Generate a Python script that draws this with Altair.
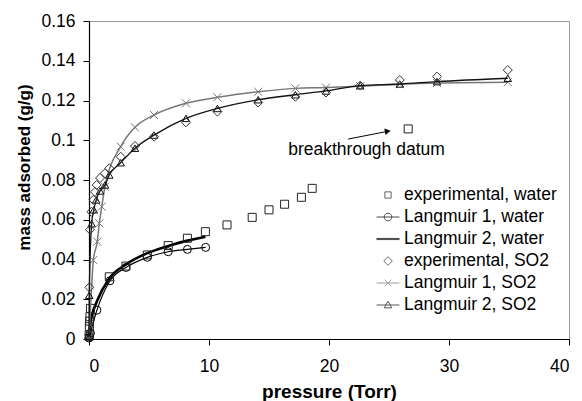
import math
import altair as alt
import pandas as pd

# ---------------- data ----------------
water_exp_p = [0.01, 0.03, 0.05, 0.08, 0.12, 1.69, 3.08, 4.86, 6.6, 8.2, 9.7,
               11.5, 13.6, 15.0, 16.3, 17.7, 18.6, 26.6]
water_exp_q = [0.002, 0.0062, 0.009, 0.0112, 0.0154, 0.0313, 0.0367, 0.0423, 0.047,
               0.0507, 0.054, 0.0574, 0.0612, 0.065, 0.0678, 0.0713, 0.0758, 0.1057]

water_l1_p = [0.0, 0.05, 0.12, 0.66, 1.75, 3.08, 4.86, 6.6, 8.2, 9.72]
water_l1_q = [0.0005, 0.0014, 0.003, 0.0145, 0.0293, 0.036, 0.0411, 0.0439, 0.0451, 0.0461]

water_l2_p = [0.0, 0.03, 0.08, 0.12, 0.3, 0.66, 1.69, 3.08, 4.86, 6.6, 8.2, 9.7]
water_l2_q = [0.0, 0.003, 0.006, 0.008, 0.013, 0.019, 0.0305, 0.0375, 0.0432, 0.0468,
              0.0495, 0.0515]

so2_exp_p = [0.01, 0.03, 0.08, 0.2, 0.36, 0.5, 0.64, 0.92, 1.33, 1.69, 2.64, 3.83,
             5.42, 8.08, 10.7, 14.1, 17.2, 19.75, 22.6, 25.9, 29.0, 34.9]
so2_exp_q = [0.002, 0.026, 0.055, 0.064, 0.070, 0.074, 0.0775, 0.081, 0.0834, 0.0859,
             0.0917, 0.0971, 0.1018, 0.109, 0.1144, 0.119, 0.1219, 0.124, 0.1275,
             0.1303, 0.132, 0.1353]

so2_l1_p = [0.0, 0.1, 0.2, 0.36, 0.69, 0.86, 1.06, 1.33, 2.64, 3.83, 5.42, 8.08,
            10.7, 14.1, 17.2, 19.75, 22.6, 25.9, 29.0, 34.9]
so2_l1_q = [0.0, 0.012, 0.024, 0.0397, 0.049, 0.0582, 0.0666, 0.0766, 0.0968, 0.1065,
            0.1127, 0.1186, 0.1216, 0.1244, 0.1261, 0.1265, 0.1272, 0.1282, 0.1288,
            0.1292]

so2_l2_p = [0.0, 0.02, 0.22, 0.4, 0.6, 0.92, 1.33, 1.69, 2.64, 3.83, 5.42, 8.08,
            10.7, 14.1, 17.2, 19.75, 22.6, 25.9, 29.0, 34.9]
so2_l2_q = [0.001, 0.022, 0.058, 0.065, 0.070, 0.0745, 0.0775, 0.0825, 0.0887, 0.096,
            0.1026, 0.111, 0.116, 0.1204, 0.1229, 0.1248, 0.1275, 0.1283, 0.1295,
            0.1312]

series_names = ["experimental, water", "Langmuir 1, water", "Langmuir 2, water",
                "experimental, SO2", "Langmuir 1, SO2", "Langmuir 2, SO2"]
series_colors = ["#222222", "#000000", "#000000", "#333333", "#777777", "#111111"]

note_text = ["breakthrough datum"]
note_p = [16.6]
note_q = [0.0926]
arrow_p = [21.6]
arrow_q = [0.1006]
arrow_p2 = [24.9]
arrow_q2 = [0.1045]

x_ticks = [0, 10, 20, 30, 40]
y_ticks = [0, 0.02, 0.04, 0.06, 0.08, 0.1, 0.12, 0.14, 0.16]

FONT = "Liberation Sans"


def frame(p, q):
    return pd.DataFrame({"p": p, "q": q})


# glyph paths (shapes only)
def poly_circle(r, n=16):
    pts = [(r * math.cos(2 * math.pi * i / n), r * math.sin(2 * math.pi * i / n)) for i in range(n)]
    return "M" + "L".join(f"{x:.3f},{y:.3f}" for x, y in pts) + "Z"

X_PATH = "M-1,-1L1,1M-1,1L1,-1"
L = 1.2
leg_shapes = [
    "M-0.33,-0.33L0.33,-0.33L0.33,0.33L-0.33,0.33Z",
    f"M-{L},0L{L},0" + poly_circle(0.4),
    f"M-{L},-0.06L{L},-0.06M-{L},0L{L},0M-{L},0.06L{L},0.06",
    "M0,-0.45L0.45,0L0,0.45L-0.45,0Z",
    f"M-{L},0L{L},0M-0.35,-0.35L0.35,0.35M-0.35,0.35L0.35,-0.35",
    f"M-{L},0L{L},0M0,-0.4L0.4,0.3L-0.4,0.3Z",
]

x_axis = alt.Axis(values=x_ticks, title="pressure (Torr)", format="d",
                  titleFontSize=19, titleY=58, titleBaseline="alphabetic",
                  labelPadding=12, labelOverlap=False)
y_axis = alt.Axis(values=y_ticks, title="mass adsorbed (g/g)", format="~g",
                  titleFontSize=17, titleX=-60, titleY=146,
                  titleBaseline="alphabetic", labelPadding=8, labelOverlap=False)
x_scale = alt.Scale(domain=[0, 40], nice=False, zero=False)
y_scale = alt.Scale(domain=[0, 0.16], nice=False)

xenc = alt.X("p:Q", scale=x_scale, axis=x_axis)
yenc = alt.Y("q:Q", scale=y_scale, axis=y_axis)


def base(p, q):
    return alt.Chart(frame(p, q)).encode(x=xenc, y=yenc)


water_exp = base(water_exp_p, water_exp_q).mark_point(
    shape="square", size=64, filled=False, color=series_colors[0], strokeWidth=1, opacity=1)

water_l1_line = base(water_l1_p, water_l1_q).mark_line(
    color=series_colors[1], strokeWidth=1.2, interpolate="monotone")
water_l1_pts = base(water_l1_p, water_l1_q).mark_point(
    shape="circle", size=64, filled=False, color=series_colors[1], strokeWidth=1, opacity=1)

water_l2_line = base(water_l2_p, water_l2_q).mark_line(
    color=series_colors[2], strokeWidth=2.6, interpolate="monotone")

so2_exp = base(so2_exp_p, so2_exp_q).mark_point(
    shape="diamond", size=81, filled=False, color=series_colors[3], strokeWidth=1, opacity=1)

so2_l1_line = base(so2_l1_p, so2_l1_q).mark_line(
    color=series_colors[4], strokeWidth=1.5, interpolate="monotone")
so2_l1_pts = base(so2_l1_p[3:], so2_l1_q[3:]).mark_point(
    shape=X_PATH, size=64, filled=False, color=series_colors[4], strokeWidth=1, opacity=1)

so2_l2_line = base(so2_l2_p, so2_l2_q).mark_line(
    color=series_colors[5], strokeWidth=1.3, interpolate="monotone")
so2_l2_pts = base(so2_l2_p, so2_l2_q).mark_point(
    shape="triangle-up", size=56, filled=False, color=series_colors[5], strokeWidth=1, opacity=1)

note_df = pd.DataFrame({"t": note_text, "p": note_p, "q": note_q})
note = alt.Chart(note_df).mark_text(align="left", baseline="alphabetic", font=FONT,
                                    fontSize=17.5, color="black").encode(
    x=xenc, y=yenc, text="t:N")

arrow_df = pd.DataFrame({"p": arrow_p, "q": arrow_q, "p2": arrow_p2, "q2": arrow_q2})
arrow = alt.Chart(arrow_df).mark_rule(color="black", strokeWidth=1).encode(
    x=xenc, y=yenc, x2="p2:Q", y2="q2:Q")
head = alt.Chart(frame(arrow_p2, arrow_q2)).mark_point(
    shape="triangle-right", size=45, filled=True, color="black", angle=350,
    opacity=1).encode(x=xenc, y=yenc)

leg = alt.Legend(title=None, orient="none", legendX=289, legendY=164,
                 labelFontSize=17.5, labelFont=FONT, labelColor="black",
                 labelOffset=6, rowPadding=3, padding=0, symbolSize=361,
                 symbolStrokeWidth=1, labelLimit=300)

legend_layer = alt.Chart(pd.DataFrame({"series": series_names})).transform_filter(
    "false").mark_point(filled=False, size=361, strokeWidth=1).encode(
    shape=alt.Shape("series:N", scale=alt.Scale(domain=series_names, range=leg_shapes),
                    legend=leg),
    stroke=alt.Stroke("series:N", scale=alt.Scale(domain=series_names, range=series_colors),
                      legend=leg),
)

chart = alt.layer(
    water_l2_line, water_l1_line, water_l1_pts, water_exp,
    so2_l1_line, so2_l1_pts, so2_l2_line, so2_l2_pts, so2_exp,
    arrow, head, note, legend_layer,
).properties(
    width=480, height=318,
    padding={"left": 89, "top": 21, "right": 13, "bottom": 62},
    autosize=alt.AutoSizeParams(type="none"),
    background="white",
).configure_view(
    stroke="#999999", strokeWidth=1
).configure_axis(
    grid=False, domainColor="black", domainWidth=1.2, tickColor="black", tickSize=6,
    labelFont=FONT, labelFontSize=17.5, labelColor="black", labelOverlap=False,
    titleFont=FONT, titleFontWeight="bold", titleColor="black",
)

chart.save("out.html", embed_options={"renderer": "svg", "actions": False})
